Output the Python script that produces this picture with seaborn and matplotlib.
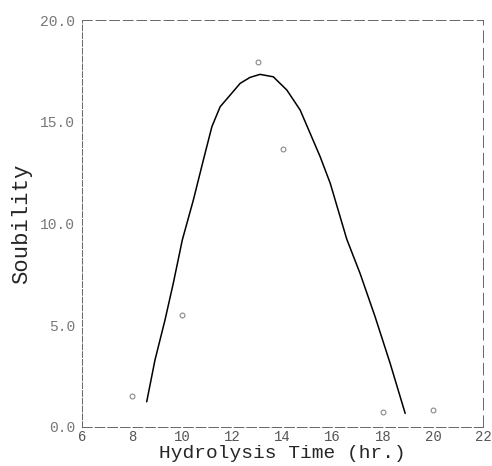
import numpy as np
import pandas as pd
import matplotlib
matplotlib.use("Agg")
import matplotlib.pyplot as plt
import seaborn as sns

# measured points
time_hr = [8, 10, 13, 14, 18, 20]
solubility = [1.5, 5.5, 17.95, 13.65, 0.75, 0.85]

# fitted curve
fit_x = [8.58, 8.91, 9.31, 9.64, 10.0, 10.44, 10.84, 11.18, 11.51, 11.97,
         12.31, 12.70, 13.10, 13.63, 14.17, 14.70, 15.10, 15.50, 15.90,
         16.56, 17.09, 17.69, 18.29, 18.89]
fit_y = [1.24, 3.29, 5.26, 7.06, 9.19, 11.15, 13.12, 14.76, 15.74, 16.40,
         16.89, 17.18, 17.33, 17.21, 16.56, 15.58, 14.43, 13.28, 11.98,
         9.23, 7.55, 5.42, 3.13, 0.67]

x_ticks = [6, 8, 10, 12, 14, 16, 18, 20, 22]
y_ticks = [0, 5, 10, 15, 20]
y_ticklabels = ["0.0", "5.0", "10.0", "15.0", "20.0"]

pts = pd.DataFrame({"time": time_hr, "sol": solubility})
fit = pd.DataFrame({"time": fit_x, "sol": fit_y})

sns.set_style("white")
plt.rcParams["font.family"] = ["Liberation Mono", "DejaVu Sans Mono"]

fig = plt.figure(figsize=(4.92, 4.66), dpi=100)
ax = fig.add_axes([0.1667, 0.0837, 0.8153, 0.8733])

sns.lineplot(data=fit, x="time", y="sol", ax=ax, color="black", linewidth=1.1)
sns.scatterplot(data=pts, x="time", y="sol", ax=ax, marker="o", s=12,
                facecolor="white", edgecolor="#888888", linewidth=0.8)

ax.set_xlim(6, 22)
ax.set_ylim(0, 20)
ax.set_xticks(x_ticks)
ax.set_yticks(y_ticks)
ax.set_yticklabels(y_ticklabels)
ax.set_xticks(np.arange(6, 23, 1), minor=True)
ax.set_yticks(np.arange(0, 21, 1), minor=True)
ax.tick_params(axis="x", which="major", direction="in", length=6, width=0.6,
               colors="#555555", labelsize=10, pad=2)
ax.tick_params(axis="y", which="major", direction="in", length=6, width=0.6,
               colors="#777777", labelsize=10.5, pad=5)
ax.tick_params(axis="both", which="minor", direction="in", length=3, width=0.5,
               colors="#777777")

for side in ["left", "right", "top", "bottom"]:
    ax.spines[side].set_color("#666666")
    ax.spines[side].set_linewidth(0.7)
ax.spines["left"].set_linestyle((0, (6, 2)))
ax.spines["top"].set_linestyle((0, (10, 4)))
ax.spines["right"].set_linestyle((0, (12, 6)))
ax.spines["bottom"].set_linestyle((0, (10, 3)))

ax.set_xlabel("Hydrolysis Time (hr.)", fontsize=14, labelpad=1)
ax.set_ylabel("Soubility", fontsize=16, labelpad=6)

fig.savefig("out.png", dpi=100)
